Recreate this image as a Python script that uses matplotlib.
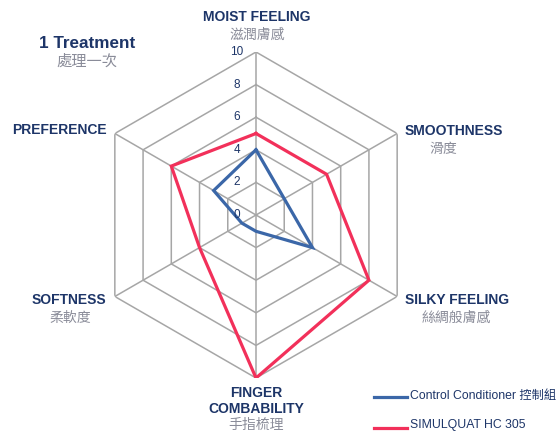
import matplotlib.pyplot as plt
import numpy as np

plt.rcParams['font.family'] = ['Liberation Sans', 'Noto Sans CJK TC', 'DejaVu Sans']

# data
categories = ["MOIST FEELING", "SMOOTHNESS", "SILKY FEELING",
              "FINGER\nCOMBABILITY", "SOFTNESS", "PREFERENCE"]
categories_zh = ["滋潤膚感", "滑度", "絲綢般膚感", "手指梳理", "柔軟度", ""]
control = [4, 2, 4, 1, 1, 3]
simulquat = [5, 5, 8, 10, 4, 6]
ring_values = [2, 4, 6, 8, 10]
tick_labels = ["0", "2", "4", "6", "8", "10"]

W, H = 557, 432
NAVY = "#1d3568"
GREY_ZH = "#8a8c99"
BLUE = "#3b67a8"
RED = "#f2305a"
GRID = "#a6a6a6"


def fx(px):
    return px / W


def fy(py):
    return 1 - py / H


fig = plt.figure(figsize=(W / 100, H / 100), dpi=100)
cx, cy, rad = 256, 215, 163
ax = fig.add_axes([fx(cx - rad), fy(cy + rad), 2 * rad / W, 2 * rad / H],
                  projection="polar")
ax.set_theta_offset(np.pi / 2)
ax.set_theta_direction(-1)
ax.set_ylim(0, 10)
ax.axis("off")

n = len(categories)
theta = np.linspace(0, 2 * np.pi, n, endpoint=False)
theta_c = np.append(theta, theta[0])

# hexagon grid
for r in ring_values:
    ax.plot(theta_c, [r] * (n + 1), color=GRID, lw=1.1, zorder=1)
for t in theta:
    ax.plot([t, t], [0, 10], color=GRID, lw=1.1, zorder=1)

ax.plot(theta_c, control + control[:1], color=BLUE, lw=2.3, zorder=3,
        solid_joinstyle="miter")
ax.plot(theta_c, simulquat + simulquat[:1], color=RED, lw=2.3, zorder=3,
        solid_joinstyle="miter")

# radial tick labels
for i, lab in enumerate(tick_labels):
    r = i * 2
    fig.text(fx(cx - 19), fy(cy - r * rad / 10), lab, ha="center",
             va="center", fontsize=8.5, color=NAVY, zorder=4)

# axis labels
lab_kw = dict(fontsize=10, fontweight="bold", color=NAVY)
zh_kw = dict(fontsize=10, color=GREY_ZH)
fig.text(fx(257), fy(17), categories[0], ha="center", va="center", **lab_kw)
fig.text(fx(257), fy(35), categories_zh[0], ha="center", va="center", **zh_kw)

fig.text(fx(405), fy(131), categories[1], ha="left", va="center", **lab_kw)
fig.text(fx(443), fy(149), categories_zh[1], ha="center", va="center", **zh_kw)

fig.text(fx(405), fy(300), categories[2], ha="left", va="center", **lab_kw)
fig.text(fx(456), fy(318), categories_zh[2], ha="center", va="center", **zh_kw)

fig.text(fx(256), fy(401), categories[3], ha="center", va="center",
         linespacing=1.2, **lab_kw)
fig.text(fx(256), fy(425), categories_zh[3], ha="center", va="center", **zh_kw)

fig.text(fx(106), fy(300), categories[4], ha="right", va="center", **lab_kw)
fig.text(fx(70), fy(318), categories_zh[4], ha="center", va="center", **zh_kw)

fig.text(fx(107), fy(130), categories[5], ha="right", va="center", **lab_kw)

# title
fig.text(fx(87), fy(44), "1 Treatment", ha="center", va="center",
         fontsize=12.3, fontweight="bold", color=NAVY)
fig.text(fx(87), fy(62), "處理一次", ha="center", va="center",
         fontsize=11, color=GREY_ZH)

# legend
fig.add_artist(plt.Line2D([fx(374), fx(407)], [fy(397), fy(397)],
                          color=BLUE, lw=2.3))
fig.text(fx(410), fy(396), "Control Conditioner 控制組", ha="left",
         va="center", fontsize=8.8, color=NAVY)
fig.add_artist(plt.Line2D([fx(374), fx(407)], [fy(428), fy(428)],
                          color=RED, lw=2.3))
fig.text(fx(410), fy(425), "SIMULQUAT HC 305", ha="left", va="center",
         fontsize=8.8, color=NAVY)

fig.savefig("out.png", dpi=100)
